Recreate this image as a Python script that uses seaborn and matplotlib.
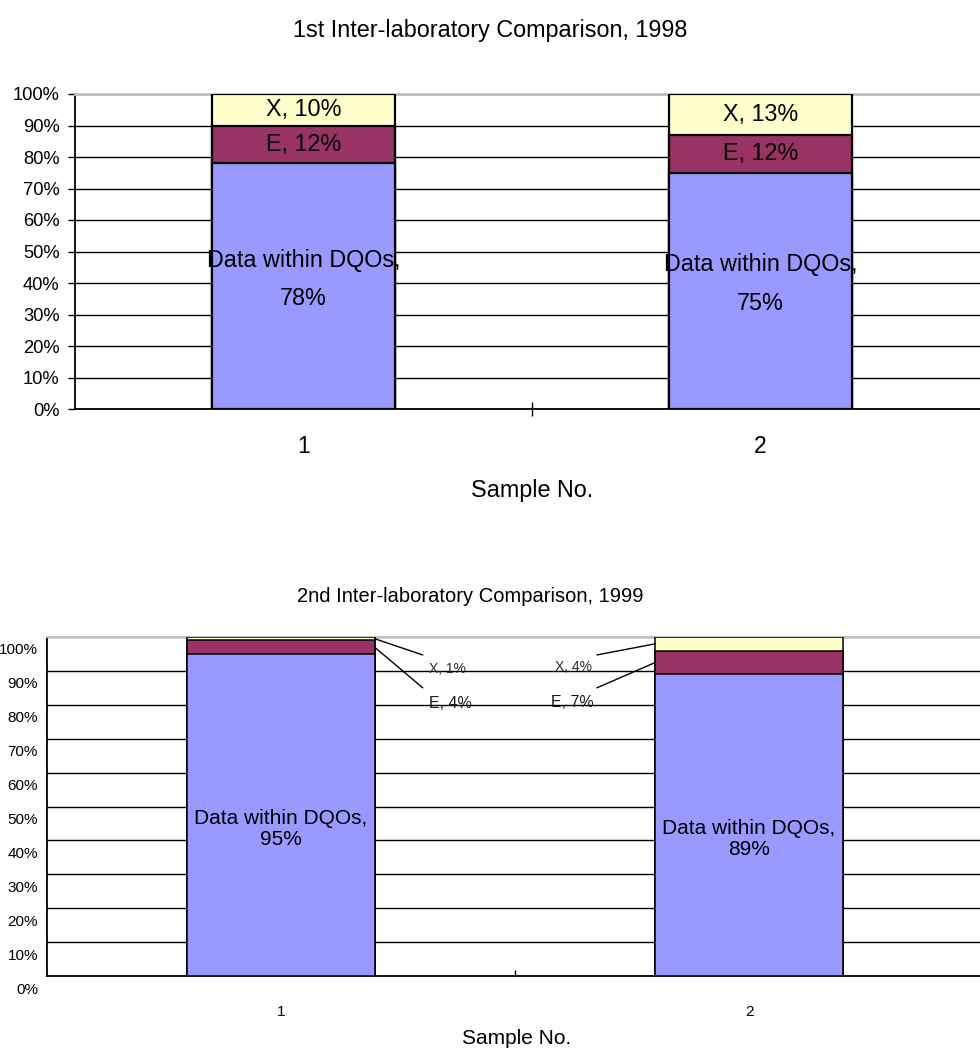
import numpy as np
import pandas as pd
import matplotlib
matplotlib.use("Agg")
import matplotlib.pyplot as plt
import matplotlib.transforms as mtransforms
import seaborn as sns

# ---- data -------------------------------------------------------------
samples = ["1", "2"]

# 1st inter-laboratory comparison (1998), percent of results
within_1998 = [78, 75]
e_1998 = [12, 12]
x_1998 = [10, 13]

# 2nd inter-laboratory comparison (1999), percent of results
within_1999 = [95, 89]
e_1999 = [4, 7]
x_1999 = [1, 4]

y_ticks = [0, 10, 20, 30, 40, 50, 60, 70, 80, 90, 100]
y_tick_labels = [f"{v}%" for v in y_ticks]

title_1998 = "1st Inter-laboratory Comparison, 1998"
title_1999 = "2nd Inter-laboratory Comparison, 1999"
x_title = "Sample No."

# ---- style ------------------------------------------------------------
BLUE = "#9999FF"
MAROON = "#993366"
CREAM = "#FFFFCC"
GRAY = "#c0c0c0"

sns.set_theme(style="white")
plt.rcParams["font.family"] = ["Liberation Sans", "DejaVu Sans"]
plt.rcParams["text.color"] = "black"
plt.rcParams["axes.labelcolor"] = "black"
plt.rcParams["xtick.color"] = "black"
plt.rcParams["ytick.color"] = "black"

W, H = 980, 1050
fig = plt.figure(figsize=(W / 100, H / 100), dpi=100)
fig.patch.set_facecolor("white")

ax1 = fig.add_axes([75 / W, 1 - 409 / H, 914 / W, 315 / H])
ax2 = fig.add_axes([47 / W, 1 - 976 / H, 936 / W, 339 / H])


def stacked_bars(ax, within, e, x, edge_lw):
    df = pd.DataFrame({"sample": samples, "within": within, "E": e, "X": x})
    df["within_E"] = df["within"] + df["E"]
    df["total"] = df["within_E"] + df["X"]
    # draw cumulative heights from tallest to shortest so each layer shows
    for col, color in [("total", CREAM), ("within_E", MAROON), ("within", BLUE)]:
        sns.barplot(data=df, x="sample", y=col, color=color, saturation=1,
                    width=0.4, edgecolor="black", linewidth=edge_lw,
                    errorbar=None, ax=ax, zorder=2)
    return df


def frame(ax, top_lw, side_lw):
    ax.set_xlim(-0.5, 1.5)
    ax.set_ylim(0, 100)
    ax.set_ylabel("")
    ax.set_yticks(y_ticks, y_tick_labels)
    ax.yaxis.grid(True, color="black", linewidth=1)
    ax.xaxis.grid(False)
    ax.set_axisbelow(True)
    for name, sp in ax.spines.items():
        sp.set_zorder(1)
    ax.spines["right"].set_visible(False)
    ax.spines["top"].set_color(GRAY)
    ax.spines["top"].set_linewidth(top_lw)
    ax.spines["left"].set_color("black")
    ax.spines["left"].set_linewidth(side_lw)
    ax.spines["bottom"].set_color("black")
    ax.spines["bottom"].set_linewidth(side_lw)
    ax.set_xticks([0.5], minor=True)


# ---- 1998 chart -------------------------------------------------------
df1 = stacked_bars(ax1, within_1998, e_1998, x_1998, 1.6)
frame(ax1, 2.0, 1.3)
ax1.tick_params(axis="y", which="major", left=True, direction="out",
                length=5, width=1, pad=6, labelsize=13.2)
ax1.tick_params(axis="x", which="major", bottom=True, length=0, pad=19,
                labelsize=16.5)
ax1.tick_params(axis="x", which="minor", bottom=True, direction="inout",
                length=10, width=1, color="black")

for i, row in df1.iterrows():
    ax1.text(i, row["within_E"] + row["X"] / 2, f"X, {row['X']}%",
             ha="center", va="center", fontsize=16.8)
    ax1.text(i, row["within"] + row["E"] / 2, f"E, {row['E']}%",
             ha="center", va="center", fontsize=16.8)
    ax1.annotate(f"Data within DQOs,\n{row['within']}%",
                 xy=(i, row["within"] / 2), xytext=(0, 5),
                 textcoords="offset points", ha="center", va="center",
                 fontsize=16.8, linespacing=1.85)

ax1.set_xlabel(x_title, fontsize=16.8)
ax1.xaxis.label.set_va("center")
ax1.xaxis.set_label_coords(0.5, (409 - 490) / 315)
fig.text(0.5, 1 - 30 / H, title_1998, ha="center", va="center", fontsize=16.8)

# ---- 1999 chart -------------------------------------------------------
df2 = stacked_bars(ax2, within_1999, e_1999, x_1999, 1.1)
frame(ax2, 1.5, 1.3)
ax2.tick_params(axis="y", which="major", left=False, length=0, pad=6.5,
                labelsize=11)
ax2.tick_params(axis="x", which="major", bottom=True, length=0, pad=21,
                labelsize=11)
ax2.tick_params(axis="x", which="minor", bottom=True, direction="in",
                length=4.5, width=1, color="black")
shift = mtransforms.ScaledTranslation(0, -0.12, fig.dpi_scale_trans)
for lab in ax2.get_yticklabels():
    lab.set_transform(lab.get_transform() + shift)

# small labels with leader lines beside each bar
leader_layout = {
    0: {"edge": 0.2, "X_end": (0.303, 94.7), "E_end": (0.303, 85.0),
        "X_text": (0.355, 90.6), "E_text": (0.361, 80.5)},
    1: {"edge": 0.8, "X_end": (0.675, 94.7), "E_end": (0.675, 85.0),
        "X_text": (0.624, 91.2), "E_text": (0.622, 80.8)},
}
line_kw = dict(arrowstyle="-", color="black", lw=1, shrinkA=0, shrinkB=0)
for i, row in df2.iterrows():
    lay = leader_layout[i]
    x_mid = row["within_E"] + row["X"] / 2
    e_mid = row["within"] + row["E"] / 2
    ax2.annotate("", xy=(lay["edge"], x_mid), xytext=lay["X_end"],
                 arrowprops=line_kw)
    ax2.annotate("", xy=(lay["edge"], e_mid), xytext=lay["E_end"],
                 arrowprops=line_kw)
    ax2.text(*lay["X_text"], f"X, {row['X']}%", ha="center", va="center",
             fontsize=10, color="#2a2a2a")
    ax2.text(*lay["E_text"], f"E, {row['E']}%", ha="center", va="center",
             fontsize=11.5, color="#1a1a1a")
    ax2.annotate(f"Data within DQOs,\n{row['within']}%",
                 xy=(i, row["within"] / 2), xytext=(0, -10),
                 textcoords="offset points", ha="center", va="center",
                 fontsize=15, linespacing=1.1)

ax2.set_xlabel(x_title, fontsize=15)
ax2.xaxis.label.set_va("center")
ax2.xaxis.set_label_coords((517 - 47) / 936, (976 - 1038) / 339)
fig.text(470 / W, 1 - 597 / H, title_1999, ha="center", va="center",
         fontsize=14.5)

fig.savefig("out.png", dpi=100, facecolor="white")
